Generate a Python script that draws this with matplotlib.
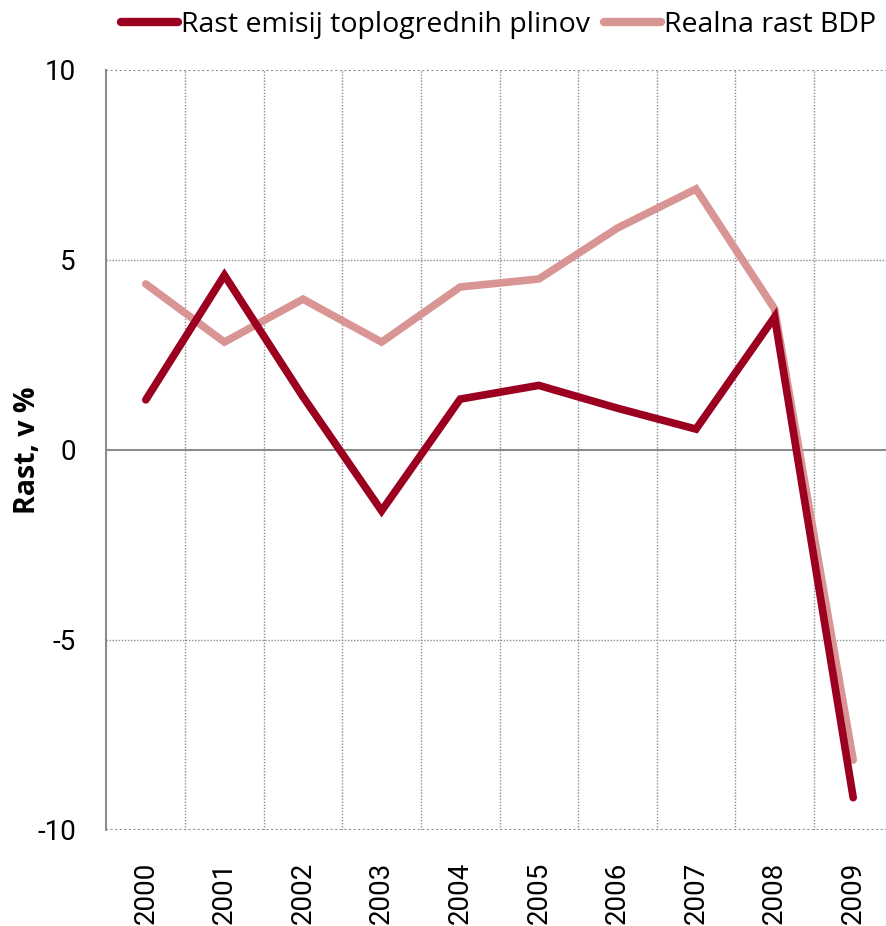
import matplotlib
matplotlib.use("Agg")
import matplotlib.pyplot as plt

years = ["2000", "2001", "2002", "2003", "2004", "2005", "2006", "2007", "2008", "2009"]
emisije = [1.32, 4.6, 1.4, -1.6, 1.34, 1.7, 1.1, 0.55, 3.5, -9.15]
bdp = [4.37, 2.84, 3.97, 2.84, 4.29, 4.5, 5.84, 6.87, 3.71, -8.16]
labels = ["Rast emisij toplogrednih plinov", "Realna rast BDP"]
colors = ["#9B0020", "#D99594"]

plt.rcParams['font.family'] = ['Open Sans', 'DejaVu Sans']

fig = plt.figure(figsize=(8.87, 9.26), dpi=100)
W, H = 887, 926
left, right, top, bottom = 106.5, 892.5, 70, 830
ax = fig.add_axes([left / W, 1 - bottom / H, (right - left) / W, (bottom - top) / H])

x = list(range(len(years)))
l2, = ax.plot(x, bdp, color=colors[1], lw=5.5, solid_capstyle='round', solid_joinstyle='miter', zorder=3)
l1, = ax.plot(x, emisije, color=colors[0], lw=5.5, solid_capstyle='round', solid_joinstyle='miter', zorder=4)

ax.set_xlim(-0.5, 9.5)
ax.set_ylim(-10, 10)
ax.set_yticks([-10, -5, 0, 5, 10])
ax.set_yticklabels(["-10", "-5", "0", "5", "10"])
ax.set_xticks(x)
ax.set_xticklabels(years, rotation=90)
ax.tick_params(axis='both', length=0, labelsize=20)
ax.tick_params(axis='y', pad=22)
ax.tick_params(axis='x', pad=23)
for lab in ax.get_xticklabels() + ax.get_yticklabels():
    lab.set_family(['Roboto', 'DejaVu Sans'])

for s in ['top', 'right', 'bottom']:
    ax.spines[s].set_visible(False)
ax.spines['left'].set_color('#8c8c8c')
ax.spines['left'].set_linewidth(1.5)

for yv in [-10, -5, 5, 10]:
    ax.axhline(yv, color='#8c8c8c', lw=1.5 if abs(yv) == 10 else 1.0, ls=(0, (1, 1.2)), zorder=1)
ax.axhline(0, color='#8c8c8c', lw=1.5, zorder=1)
for xv in [i + 0.5 for i in range(9)]:
    ax.axvline(xv, color='#8c8c8c', lw=1.0, ls=(0, (1, 1.2)), zorder=1)

ax.set_ylabel("Rast, v %", fontsize=20.5, fontweight='bold')
ax.yaxis.set_label_coords(-79 / (right - left), 0.5)
ax.yaxis.label.set_horizontalalignment('center')
ax.yaxis.label.set_verticalalignment('center')

leg = fig.legend([l1, l2], labels, loc='center left', bbox_to_anchor=(121 / W, 1 - 25 / H),
                 ncol=2, frameon=False, handlelength=2.0, handletextpad=0.1,
                 columnspacing=0.5, borderaxespad=0, borderpad=0,
                 prop={'family': ['Open Sans', 'DejaVu Sans'], 'size': 20.5})
for h in leg.get_lines():
    h.set_linewidth(6)

fig.savefig("out.png", dpi=100)
